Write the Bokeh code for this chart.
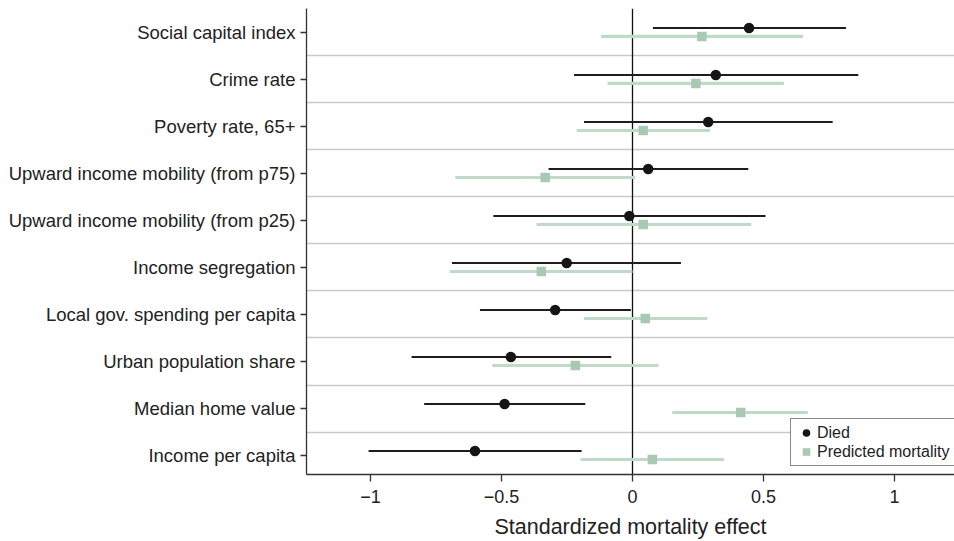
from bokeh.plotting import figure
from bokeh.models import Range1d, FixedTicker, Legend, LegendItem, ColumnDataSource
from bokeh.embed import file_html
from bokeh.resources import INLINE

categories = ["Social capital index", "Crime rate", "Poverty rate, 65+",
              "Upward income mobility (from p75)", "Upward income mobility (from p25)",
              "Income segregation", "Local gov. spending per capita",
              "Urban population share", "Median home value", "Income per capita"]
died = [0.445, 0.318, 0.289, 0.060, -0.012, -0.251, -0.295, -0.464, -0.488, -0.601]
died_lo = [0.078, -0.223, -0.185, -0.320, -0.531, -0.689, -0.582, -0.843, -0.795, -1.007]
died_hi = [0.815, 0.862, 0.764, 0.442, 0.508, 0.185, -0.006, -0.081, -0.180, -0.194]
pred = [0.265, 0.242, 0.041, -0.333, 0.041, -0.348, 0.049, -0.218, 0.413, 0.076]
pred_lo = [-0.120, -0.095, -0.213, -0.676, -0.366, -0.697, -0.185, -0.535, 0.152, -0.198]
pred_hi = [0.651, 0.578, 0.296, 0.010, 0.453, 0.000, 0.286, 0.099, 0.669, 0.349]
x_ticks = [-1, -0.5, 0, 0.5, 1]
x_tick_labels = ["\u22121", "\u22120.5", "0", "0.5", "1"]

n = len(categories)
rows = [n - i for i in range(n)]
y_died = [r + 0.096 for r in rows]
y_pred = [r - 0.085 for r in rows]
seps = [k + 0.5 for k in range(1, n)]

TXT = "#222222"
FONT = "Liberation Sans"

p = figure(width=954, height=541, output_backend="svg", toolbar_location=None,
           x_range=Range1d(-1.244, 1.229), y_range=Range1d(0.596, n + 0.51),
           min_border_left=306, min_border_right=0, min_border_top=8,
           min_border_bottom=0)
p.outline_line_color = None
p.xgrid.visible = False
p.ygrid.visible = False
p.background_fill_color = "white"

p.hspan(y=seps, line_color="#c9c9c9", line_width=1.6)
p.vspan(x=[0], line_color="#111111", line_width=1.3)

src_d = ColumnDataSource(dict(x=died, lo=died_lo, hi=died_hi, y=y_died))
src_p = ColumnDataSource(dict(x=pred, lo=pred_lo, hi=pred_hi, y=y_pred))

p.segment(x0="lo", x1="hi", y0="y", y1="y", source=src_p, line_color="#bfdac8", line_width=3.2)
r_p = p.scatter(x="x", y="y", source=src_p, marker="square", size=9.5,
                fill_color="#a8cab3", line_color=None)
p.segment(x0="lo", x1="hi", y0="y", y1="y", source=src_d, line_color="#1e1e1e", line_width=2)
r_d = p.scatter(x="x", y="y", source=src_d, marker="circle", size=10.5,
                fill_color="#151515", line_color=None)

# axes
xa = p.xaxis[0]
xa.ticker = FixedTicker(ticks=x_ticks)
xa.major_label_overrides = {t: l for t, l in zip(x_ticks, x_tick_labels)}
xa.axis_label = "Standardized mortality effect"
xa.axis_label_text_font = FONT
xa.axis_label_text_font_style = "normal"
xa.axis_label_text_font_size = "21.5px"
xa.axis_label_text_color = TXT
xa.axis_label_standoff = 9
xa.major_label_text_font = FONT
xa.major_label_text_font_size = "18px"
xa.major_label_text_color = TXT
xa.major_label_standoff = 8
xa.minor_tick_line_color = None
xa.major_tick_in = 0
xa.major_tick_out = 7
xa.axis_line_color = "#333333"
xa.axis_line_width = 1.3
xa.major_tick_line_color = "#333333"
xa.major_tick_line_width = 1.3

ya = p.yaxis[0]
ya.ticker = FixedTicker(ticks=rows)
ya.major_label_overrides = {r: c for r, c in zip(rows, categories)}
ya.major_label_text_font = FONT
ya.major_label_text_font_size = "18.5px"
ya.major_label_text_color = TXT
ya.major_label_standoff = 5
ya.minor_tick_line_color = None
ya.major_tick_in = 0
ya.major_tick_out = 6
ya.axis_line_color = "#333333"
ya.axis_line_width = 1.3
ya.major_tick_line_color = "#333333"
ya.major_tick_line_width = 1.3

legend = Legend(items=[LegendItem(label="Died", renderers=[r_d]),
                       LegendItem(label="Predicted mortality", renderers=[r_p])],
                location=(484, 8))
legend.label_text_font = FONT
legend.label_text_font_size = "16px"
legend.label_text_color = TXT
legend.label_height = 17
legend.glyph_height = 19
legend.glyph_width = 22
legend.label_standoff = 0
legend.spacing = 0
legend.padding = 4
legend.margin = 0
legend.border_line_color = "#111111"
legend.border_line_width = 1.2
legend.background_fill_alpha = 1
p.add_layout(legend, "center")

open("out.html", "w").write(file_html(p, INLINE))
